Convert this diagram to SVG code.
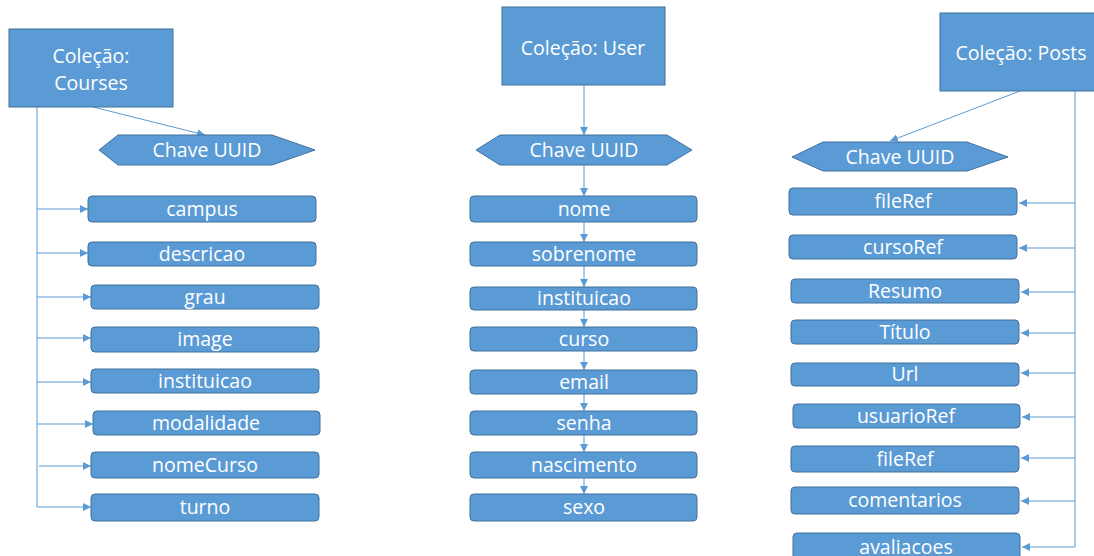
<svg xmlns="http://www.w3.org/2000/svg" width="1094" height="556" viewBox="0 0 1094 556">
<style>
.box{fill:#5b9bd5;stroke:#41719c;stroke-width:1}
.t{font-family:"Open Sans","Noto Sans",sans-serif;font-size:19.5px;fill:#ffffff;text-anchor:middle}
.c{stroke:#5b9bd5;stroke-width:1;fill:none}
.ca{stroke:#5b9bd5;stroke-width:1;fill:none;marker-end:url(#ah)}
</style>
<defs>
<marker id="ah" viewBox="0 0 10 10" refX="10" refY="5" markerWidth="8" markerHeight="8" markerUnits="userSpaceOnUse" orient="auto"><path d="M0,0 L10,5 L0,10 z" fill="#5b9bd5"/></marker>
</defs>
<rect width="1094" height="556" fill="#ffffff"/>

<g id="connectors">
<line class="ca" x1="93" y1="107" x2="205" y2="135"/>
<polyline class="c" points="37,107 37,507"/>
<line class="ca" x1="37" y1="209" x2="88" y2="209"/>
<line class="ca" x1="37" y1="253" x2="88" y2="253"/>
<line class="ca" x1="37" y1="297" x2="91" y2="297"/>
<line class="ca" x1="37" y1="338" x2="91" y2="338"/>
<line class="ca" x1="37" y1="382" x2="91" y2="382"/>
<line class="ca" x1="37" y1="424" x2="93" y2="424"/>
<line class="ca" x1="39" y1="466" x2="91" y2="466"/>
<line class="ca" x1="37" y1="507" x2="91" y2="507"/>
<line class="ca" x1="584" y1="85" x2="584" y2="135"/>
<line class="ca" x1="584" y1="165" x2="584" y2="196"/>
<line class="ca" x1="584" y1="222" x2="584" y2="242"/>
<line class="ca" x1="584" y1="266" x2="584" y2="287"/>
<line class="ca" x1="584" y1="310" x2="584" y2="327"/>
<line class="ca" x1="584" y1="351" x2="584" y2="370"/>
<line class="ca" x1="584" y1="394" x2="584" y2="411"/>
<line class="ca" x1="584" y1="435" x2="584" y2="452"/>
<line class="ca" x1="584" y1="478" x2="584" y2="494"/>
<line class="ca" x1="1020" y1="91" x2="890" y2="141"/>
<polyline class="c" points="1075,91 1075,547"/>
<line class="ca" x1="1075" y1="203" x2="1019" y2="203"/>
<line class="ca" x1="1075" y1="248" x2="1019" y2="248"/>
<line class="ca" x1="1075" y1="292" x2="1021" y2="292"/>
<line class="ca" x1="1075" y1="333" x2="1021" y2="333"/>
<line class="ca" x1="1075" y1="373" x2="1021" y2="373"/>
<line class="ca" x1="1075" y1="417" x2="1022" y2="417"/>
<line class="ca" x1="1075" y1="458" x2="1021" y2="458"/>
<line class="ca" x1="1075" y1="501" x2="1021" y2="501"/>
<line class="ca" x1="1075" y1="547" x2="1022" y2="547"/>
</g>

<g id="courses">
<rect class="box" x="9" y="29" width="164" height="78"/>
<text class="t" x="91" y="63">Coleção:</text>
<text class="t" x="91" y="90">Courses</text>
</g>
<g id="courses-key">
<polygon class="box" points="99,150 118,135 272,135 315,150 272,165 118,165"/>
<text class="t" x="207" y="157">Chave UUID</text>
</g>
<g id="c-campus"><rect class="box" x="88" y="196" width="228" height="26" rx="4"/><text class="t" x="202" y="216">campus</text></g>
<g id="c-descricao"><rect class="box" x="88" y="242" width="228" height="24" rx="4"/><text class="t" x="202" y="261">descricao</text></g>
<g id="c-grau"><rect class="box" x="91" y="285" width="228" height="24" rx="4"/><text class="t" x="205" y="304">grau</text></g>
<g id="c-image"><rect class="box" x="91" y="327" width="228" height="25" rx="4"/><text class="t" x="205" y="346">image</text></g>
<g id="c-instituicao"><rect class="box" x="91" y="369" width="228" height="24" rx="4"/><text class="t" x="205" y="388">instituicao</text></g>
<g id="c-modalidade"><rect class="box" x="93" y="411" width="227" height="24" rx="4"/><text class="t" x="206" y="430">modalidade</text></g>
<g id="c-nomeCurso"><rect class="box" x="91" y="452" width="228" height="26" rx="4"/><text class="t" x="205" y="472">nomeCurso</text></g>
<g id="c-turno"><rect class="box" x="91" y="494" width="228" height="27" rx="4"/><text class="t" x="205" y="514">turno</text></g>

<g id="user">
<rect class="box" x="502" y="7" width="163" height="78"/>
<text class="t" x="583" y="55">Coleção: User</text>
</g>
<g id="user-key">
<polygon class="box" points="476,150 500,135 667,135 692,150 667,165 500,165"/>
<text class="t" x="584" y="157">Chave UUID</text>
</g>
<g id="u-nome"><rect class="box" x="470" y="196" width="227" height="26" rx="4"/><text class="t" x="584" y="216">nome</text></g>
<g id="u-sobrenome"><rect class="box" x="470" y="242" width="227" height="24" rx="4"/><text class="t" x="584" y="261">sobrenome</text></g>
<g id="u-instituicao"><rect class="box" x="470" y="287" width="227" height="23" rx="4"/><text class="t" x="584" y="305">instituicao</text></g>
<g id="u-curso"><rect class="box" x="470" y="327" width="227" height="24" rx="4"/><text class="t" x="584" y="346">curso</text></g>
<g id="u-email"><rect class="box" x="470" y="370" width="227" height="24" rx="4"/><text class="t" x="584" y="389">email</text></g>
<g id="u-senha"><rect class="box" x="470" y="411" width="227" height="24" rx="4"/><text class="t" x="584" y="430">senha</text></g>
<g id="u-nascimento"><rect class="box" x="470" y="452" width="227" height="26" rx="4"/><text class="t" x="584" y="472">nascimento</text></g>
<g id="u-sexo"><rect class="box" x="470" y="494" width="227" height="27" rx="4"/><text class="t" x="584" y="514">sexo</text></g>

<g id="posts">
<rect class="box" x="940" y="13" width="162" height="78"/>
<text class="t" x="1021" y="60">Coleção: Posts</text>
</g>
<g id="posts-key">
<polygon class="box" points="792,157 823,142 967,142 1008,157 967,171 823,171"/>
<text class="t" x="900" y="164">Chave UUID</text>
</g>
<g id="p-fileRef"><rect class="box" x="789" y="188" width="228" height="27" rx="4"/><text class="t" x="903" y="208">fileRef</text></g>
<g id="p-cursoRef"><rect class="box" x="789" y="235" width="228" height="24" rx="4"/><text class="t" x="903" y="254">cursoRef</text></g>
<g id="p-Resumo"><rect class="box" x="791" y="279" width="228" height="24" rx="4"/><text class="t" x="905" y="298">Resumo</text></g>
<g id="p-Titulo"><rect class="box" x="791" y="320" width="228" height="24" rx="4"/><text class="t" x="905" y="339">Título</text></g>
<g id="p-Url"><rect class="box" x="791" y="363" width="228" height="23" rx="4"/><text class="t" x="905" y="381">Url</text></g>
<g id="p-usuarioRef"><rect class="box" x="793" y="404" width="227" height="24" rx="4"/><text class="t" x="906" y="423">usuarioRef</text></g>
<g id="p-fileRef2"><rect class="box" x="791" y="446" width="228" height="26" rx="4"/><text class="t" x="905" y="466">fileRef</text></g>
<g id="p-comentarios"><rect class="box" x="791" y="487" width="228" height="27" rx="4"/><text class="t" x="905" y="507">comentarios</text></g>
<g id="p-avaliacoes"><rect class="box" x="793" y="533" width="227" height="30" rx="4"/><text class="t" x="906" y="554">avaliacoes</text></g>
</svg>
